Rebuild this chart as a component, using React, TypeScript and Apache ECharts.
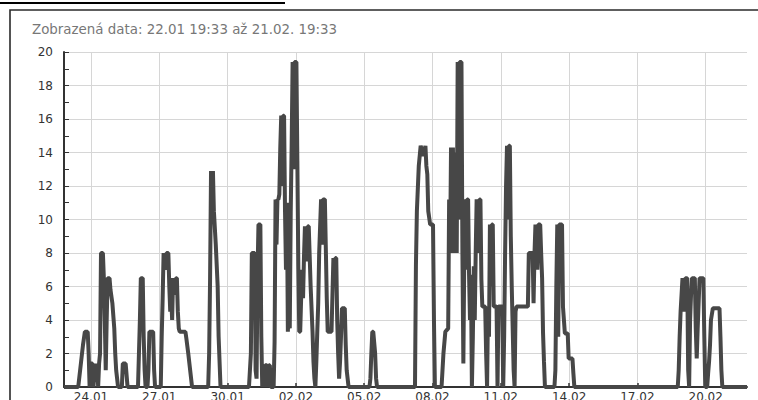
import React, { useEffect, useRef } from "react";
import * as echarts from "echarts";

// Time window shown: 22.01 19:33 -> 21.02 19:33 (720 hours)
const START = Date.UTC(2024, 0, 22, 19, 33);
const HOUR = 3600 * 1000;
const SPAN_HOURS = 720;

const TITLE = "Zobrazená data: 22.01 19:33 až 21.02. 19:33";

const xTickLabels = ["24.01", "27.01", "30.01", "02.02", "05.02", "08.02", "11.02", "14.02", "17.02", "20.02"];
const yMin = 0;
const yMax = 20;
const yStep = 2;

// [hours since start, value]
const burst1: [number, number][] = [
  [0, 0], [15, 0], [18, 1.5], [20, 2.5], [22, 3.3], [25, 3.3], [26, 2], [27, 0], [28, 1.4], [30, 1.4], [31, 0],
  [33, 1.4], [34, 0.5], [35, 1.4], [36, 0], [37, 1.4], [38, 2], [39, 8], [41, 8], [42, 6.5], [43, 4], [44, 1],
  [45, 4], [46, 6.5], [48, 6.5], [49, 5.8], [51, 5], [53, 3.5], [54, 2], [55, 1], [57, 0], [61, 0], [62, 1.4],
  [65, 1.4], [67, 0], [78, 0], [79, 2], [80, 4], [81, 6.5], [83, 6.5], [84, 3], [85, 1], [86, 0], [88, 0],
  [89, 1], [90, 3.3], [94, 3.3], [95, 1], [96, 0], [102, 0],
];

const burst2: [number, number][] = [
  [103, 3], [104, 5.3], [105, 8], [107, 7], [108, 8], [110, 8], [111, 6], [112, 4.5], [113, 5.5], [114, 4],
  [115, 6.5], [117, 5.5], [118, 6.5], [119, 6.5], [120, 4.5], [121, 3.5], [122, 3.3], [128, 3.3], [129, 2.9],
  [131, 2], [133, 1], [135, 0], [152, 0], [153, 2], [154, 6.5], [155, 12.9], [156, 10.5], [157, 12.9],
  [158, 10.5], [160, 8.5], [162, 6], [163, 3], [165, 0], [195, 0],
];

const burst3: [number, number][] = [
  [197, 2], [198, 8], [201, 8], [202, 1], [203, 0.5], [204, 6.7], [205, 9.7], [207, 9.7], [208, 3], [209, 0],
  [210, 1.3], [211, 0], [212, 1.3], [214, 1.3], [215, 0], [216, 1.3], [217, 1.3], [218, 0], [221, 0], [222, 2.7],
  [223, 11.2], [224, 8.5], [225, 11.2], [226, 11.2], [227, 11.5], [228, 14.3], [229, 16.2], [230, 12],
  [231, 16.2], [232, 16.2], [233, 10.5], [234, 7], [235, 11], [236, 3.3], [237, 5.5], [238, 3.5], [239, 10.4],
  [240, 14.5], [241, 19.4], [242, 13], [243, 19.4], [245, 19.4], [246, 13.5], [247, 7.3], [248, 3.3],
  [249, 3.3], [250, 5.3], [251, 7], [252, 5.3], [253, 7.8], [254, 9.6], [256, 7.5], [257, 9.6], [258, 9.6],
  [260, 6], [262, 3.3], [263, 1.5], [264, 0.5], [265, 0], [266, 1.5], [267, 3.3], [268, 5], [269, 8], [271, 11.2],
  [272, 8.5], [273, 11.2], [275, 11.2], [276, 8.3], [277, 5.3], [278, 3.3], [282, 3.3], [283, 5.5], [284, 7.7],
  [285, 6], [286, 7.7], [287, 7.7], [288, 4], [289, 2], [290, 0.5], [291, 1.5], [292, 3], [293, 4.7], [296, 4.7],
  [297, 2.5], [298, 1], [300, 0], [322, 0],
];

const burst4: [number, number][] = [
  [323, 0.5], [324, 2], [325, 3.3], [326, 3.3], [328, 2], [329, 0.5], [330, 0], [370, 0], [371, 7.3],
  [372, 10.5], [374, 13.2], [376, 14.4], [379, 13.8], [381, 14.4], [382, 13.2], [383, 12.7], [384, 10.5],
  [386, 9.7], [389, 9.7], [390, 4], [391, 0], [398, 0], [399, 1], [400, 2], [402, 3.3], [405, 3.5], [406, 11.2],
  [407, 8], [408, 14.3], [409, 9], [410, 14.3], [411, 8], [412, 10.5], [413, 14], [414, 8], [415, 19.4],
  [416, 10], [417, 19.4], [419, 19.4], [420, 8], [421, 1.4], [422, 8], [423, 11.2], [424, 7], [425, 11.2],
  [426, 11.2], [427, 6.7], [428, 4], [429, 6.7], [430, 0],
];

const burst5: [number, number][] = [
  [431, 3], [432, 7.2], [433, 4], [434, 8], [435, 11.2], [437, 8], [438, 11.2], [439, 11.2], [440, 6.4],
  [441, 4.8], [444, 4.8], [445, 2], [446, 0], [447, 4.8], [448, 3], [449, 9.7], [450, 6], [451, 9.7], [452, 9.7],
  [453, 4.8], [456, 4.8], [457, 0], [458, 4.8], [462, 4.8], [463, 0], [464, 3], [465, 8], [466, 12], [467, 14.4],
  [468, 10], [469, 14.4], [470, 14.4], [471, 9], [472, 6], [474, 1], [475, 0], [476, 4.5], [477, 4.8], [489, 4.8],
  [490, 8], [494, 8], [495, 5], [496, 8], [497, 9.7], [499, 7], [500, 9.7], [502, 9.7], [503, 8], [504, 6.5],
  [505, 3.2], [506, 1.5], [507, 0], [517, 0], [518, 1], [519, 6], [520, 9.7], [521, 3], [522, 9.7], [525, 9.7],
  [526, 4.8], [527, 4], [528, 3.2], [531, 3.2], [532, 1.7], [536, 1.7], [537, 0.8], [538, 0], [646, 0],
];

const burst6: [number, number][] = [
  [647, 0], [648, 1], [649, 3], [650, 4.5], [652, 6.5], [654, 4.5], [655, 6.5], [657, 6.5], [658, 1], [659, 0],
  [660, 4], [661, 5.5], [662, 6.5], [665, 6.5], [666, 3.5], [667, 1.7], [668, 3.5], [669, 5], [670, 6.5],
  [674, 6.5], [675, 3], [676, 0], [678, 0], [679, 0.8], [680, 1.5], [681, 2.5], [682, 4], [684, 4.7], [691, 4.7],
  [692, 3], [693, 1], [694, 0], [720, 0],
];

const pad = (n: number) => (n < 10 ? "0" + n : "" + n);
const labelToTime = (l: string) => {
  const [d, m] = l.split(".").map(Number);
  return Date.UTC(2024, m - 1, d);
};
const fmtTime = (v: number) => {
  const d = new Date(v);
  return pad(d.getUTCDate()) + "." + pad(d.getUTCMonth() + 1);
};

export default function App() {
  const ref = useRef<HTMLDivElement>(null);
  useEffect(() => {
    if (!ref.current) return;
    const chart = echarts.init(ref.current, undefined, { renderer: "svg" });
    const points = [...burst1, ...burst2, ...burst3, ...burst4, ...burst5, ...burst6].map(
      ([h, v]) => [START + h * HOUR, v]
    );
    const tickTimes = xTickLabels.map(labelToTime);
    const font = "DejaVu Sans";
    chart.setOption({
      animation: false,
      backgroundColor: "#ffffff",
      title: {
        text: TITLE,
        left: 27,
        top: 18,
        textStyle: { fontFamily: font, fontSize: 13.4, fontWeight: "normal", color: "#777777" },
      },
      graphic: [
        {
          type: "rect",
          shape: { x: 10, y: 10, width: 900, height: 600 },
          style: { fill: "none", stroke: "#2a2a2a", lineWidth: 1.6 },
          silent: true,
        },
        {
          type: "rect",
          shape: { x: 0, y: 2, width: 285, height: 2 },
          style: { fill: "#000000" },
          silent: true,
        },
      ],
      grid: { left: 64, right: 11, top: 52, bottom: 13, containLabel: false, outerBoundsMode: "none" },
      xAxis: {
        type: "value",
        min: START,
        max: START + SPAN_HOURS * HOUR,
        axisLine: { show: true, lineStyle: { color: "#333333", width: 2 } },
        axisTick: {
          show: true,
          inside: true,
          length: 4,
          customValues: tickTimes,
          lineStyle: { color: "#333333", width: 1.5 },
        },
        axisLabel: {
          customValues: tickTimes,
          formatter: (v: number) => fmtTime(v),
          margin: 4,
          fontFamily: font,
          fontSize: 12,
          color: "#333333",
        },
        splitLine: { show: true, lineStyle: { color: "#d6d6d6", width: 1 } },
      },
      yAxis: {
        type: "value",
        min: yMin,
        max: yMax,
        interval: yStep,
        axisLine: { show: true, lineStyle: { color: "#333333", width: 2 } },
        axisTick: { show: true, inside: true, length: 5, lineStyle: { color: "#333333", width: 1 } },
        minorTick: { show: true, splitNumber: 2, length: 5, lineStyle: { color: "#333333", width: 1 } },
        axisLabel: { margin: 11, fontFamily: font, fontSize: 12, color: "#333333" },
        splitLine: { show: true, lineStyle: { color: "#d6d6d6", width: 1 } },
      },
      series: [
        {
          type: "line",
          data: points,
          showSymbol: false,
          symbol: "none",
          lineStyle: { color: "#474747", width: 4 },
          clip: true,
        },
      ],
    });
    return () => chart.dispose();
  }, []);
  return (
    <div
      ref={ref}
      style={{ position: "fixed", left: 0, top: 0, width: 758, height: 400, background: "#fff" }}
    />
  );
}
